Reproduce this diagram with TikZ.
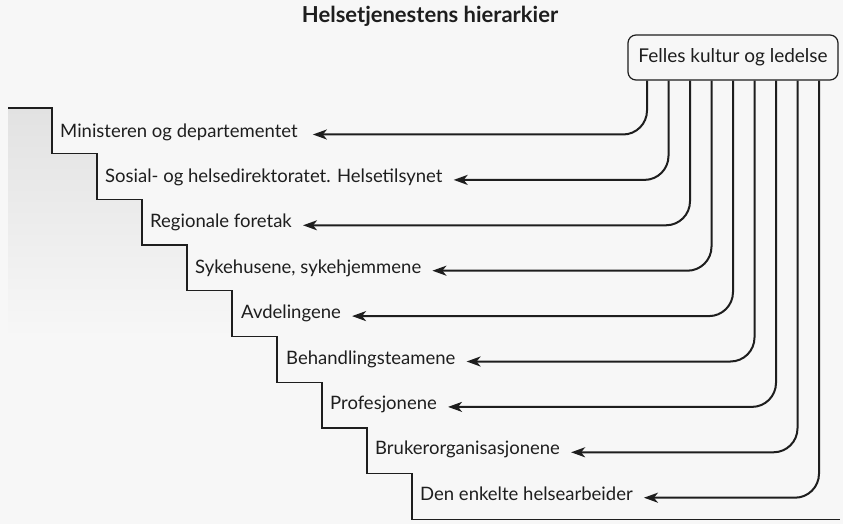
\documentclass[tikz,border=0pt]{standalone}
\usepackage{fontspec}
\setmainfont{Lato}
\usetikzlibrary{arrows.meta,calc}
\definecolor{bg}{RGB}{247,247,247}
\definecolor{ink}{RGB}{30,30,30}
\definecolor{shd}{RGB}{226,226,226}
\pgfdeclareverticalshading{stairfade}{100bp}{color(0bp)=(bg); color(47bp)=(bg); color(75bp)=(shd); color(100bp)=(shd)}
\begin{document}
\begin{tikzpicture}[x=1pt,y=-1pt,
  lbl/.style={anchor=mid west,inner sep=0pt,font=\fontsize{18.5}{20}\selectfont,text=ink},
  conn/.style={draw=ink,line width=2pt,rounded corners=24pt,-{Stealth[length=14pt,width=10pt,inset=4pt]}},
  stair/.style={draw=ink,line width=1.3pt}]
\fill[bg] (0,0) rectangle (843,524);
\useasboundingbox (0,0) rectangle (843,524);
% shading under the stairs
\shade[shading=stairfade] (8,108)--(52,108)--(52,153.7)--(97,153.7)--(97,199.4)--(142,199.4)--(142,245.1)--(187,245.1)
  --(187,290.8)--(232,290.8)--(232,336.5)--(277,336.5)--(277,382.2)--(322,382.2)--(322,427.9)--(367,427.9)
  --(367,473.6)--(412,473.6)--(412,519.3)--(8,519.3)--cycle;
% title
\node[font=\fontsize{22}{24}\bfseries\selectfont,text=ink] (title) at (430,16) {Helsetjenestens hierarkier};
% box
\node[draw=ink,line width=1.2pt,rounded corners=8pt,minimum width=210pt,minimum height=45pt,inner sep=0pt,
  font=\fontsize{19}{21}\selectfont,text=ink] (box) at (733,57.5) {Felles kultur og ledelse};
% staircase
\draw[stair] (8,108)--(52,108)--(52,153.7)--(97,153.7)--(97,199.4)--(142,199.4)--(142,245.1)--(187,245.1)
  --(187,290.8)--(232,290.8)--(232,336.5)--(277,336.5)--(277,382.2)--(322,382.2)--(322,427.9)--(367,427.9)
  --(367,473.6)--(412,473.6)--(412,519.3)--(840,519.3);
% labels
\node[lbl] (l1) at (60,134.5) {Ministeren og departementet};
\node[lbl] (l2) at (105,179.9) {Sosial- og helsedirektoratet. Helsetilsynet};
\node[lbl] (l3) at (150,225.3) {Regionale foretak};
\node[lbl] (l4) at (195,270.7) {Sykehusene, sykehjemmene};
\node[lbl] (l5) at (241,316.1) {Avdelingene};
\node[lbl] (l6) at (286,361.5) {Behandlingsteamene};
\node[lbl] (l7) at (330,406.9) {Profesjonene};
\node[lbl] (l8) at (375,452.3) {Brukerorganisasjonene};
\node[lbl] (l9) at (420,497.7) {Den enkelte helsearbeider};
% start points
\foreach \i/\x in {1/647,2/668.5,3/690,4/711.5,5/733,6/754.5,7/776,8/797.5,9/819}
  \coordinate (s\i) at (box.south -| \x,0);
\draw[conn] (s1) |- ([xshift=15pt]l1.mid east);
\foreach \i in {2,...,9}
  \draw[conn] (s\i) |- ([xshift=11pt]l\i.mid east);
\end{tikzpicture}
\end{document}
